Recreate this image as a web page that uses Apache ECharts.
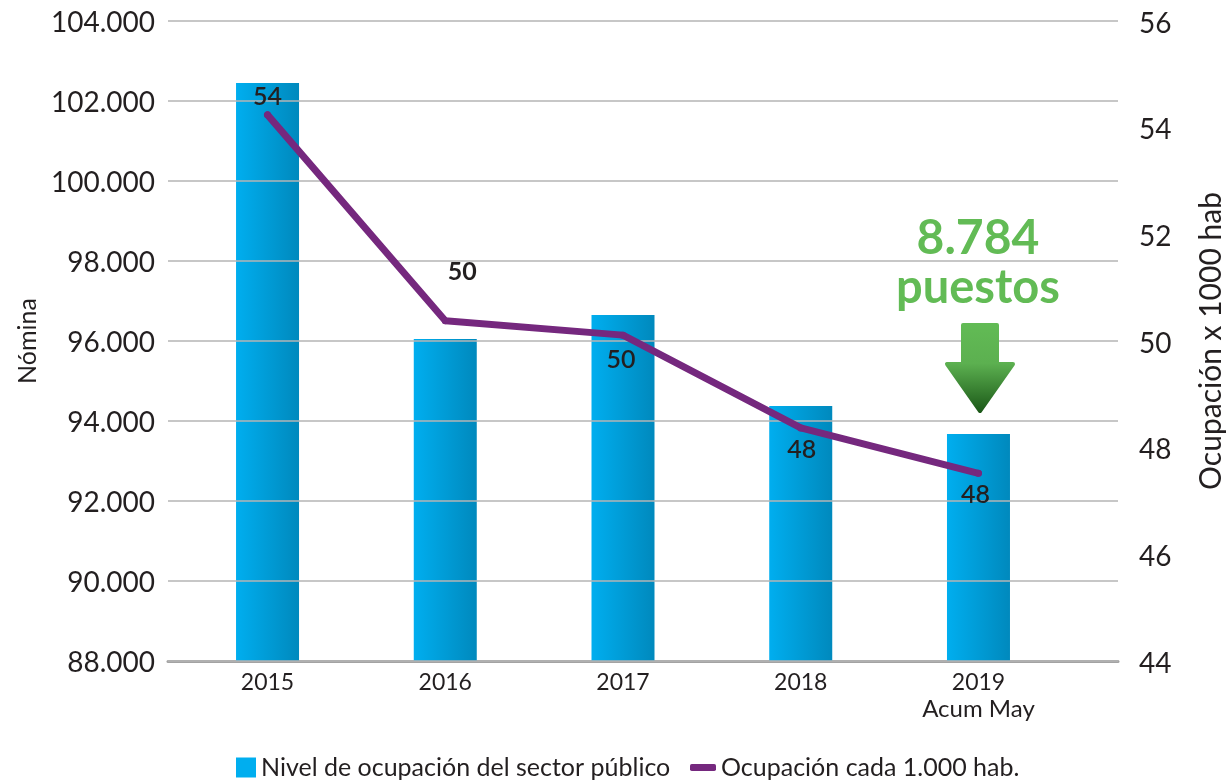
<!DOCTYPE html>
<html><head><meta charset="utf-8">
<style>html,body{margin:0;padding:0;background:#fff}#c{width:1229px;height:781px}</style>
<script src="https://cdn.jsdelivr.net/npm/echarts@6/dist/echarts.min.js"></script>
</head><body><div id="c"></div>
<script>
const categories = ['2015','2016','2017','2018','2019\n{s|Acum May}'];
const nomina = [102450,96050,96650,94375,93675];
const ocupacion = [54.24,50.38,50.11,48.37,47.52];
const ocupacionLabels = ['54','50','50','48','48'];
const labelOffsets = [[0,-18],[17,-49],[-2,25],[1,22],[-3,22]];
const seriesBar = 'Nivel de ocupación del sector público';
const seriesLine = 'Ocupación cada 1.000 hab.';
const positions = categories.map((_,i)=>i);
const font='Lato';
const ink='#231f20';
const arrowFill=()=>new echarts.graphic.LinearGradient(0,0,0,1,[{offset:0,color:'#62bb55'},{offset:0.45,color:'#5cb050'},{offset:1,color:'#1a5717'}]);
const chart=echarts.init(document.getElementById('c'),null,{renderer:'canvas'});
chart.setOption({
  animation:false,
  backgroundColor:'#fff',
  textStyle:{fontFamily:font,color:ink},
  grid:{left:168,right:111,top:21,bottom:120,containLabel:false,outerBoundsMode:'none'},
  legend:[
    {data:[{name:seriesBar,icon:'rect',itemStyle:{color:'#00aeef'}}],left:236,top:755,itemWidth:20,itemHeight:20,itemGap:6,padding:0,
     textStyle:{fontFamily:font,fontSize:25,color:ink}},
    {data:[{name:seriesLine,icon:'roundRect',itemStyle:{color:'#75287e'},lineStyle:{opacity:0}}],left:690,top:755,itemWidth:26,itemHeight:7,itemGap:4,padding:0,
     textStyle:{fontFamily:font,fontSize:25,color:ink}}
  ],
  xAxis:{type:'value',min:-0.56,max:4.785,splitLine:{show:false},
    axisLine:{show:true,onZero:false,lineStyle:{color:'#a3a3a3',width:3}},axisTick:{show:false},
    axisLabel:{customValues:positions,formatter:v=>categories[Math.round(v)],fontFamily:font,fontSize:23,color:ink,margin:8,lineHeight:27,align:'center',showMinLabel:true,showMaxLabel:true,
      rich:{s:{fontFamily:font,fontSize:24,color:ink,lineHeight:27}}}},
  yAxis:[
    {type:'value',min:88000,max:104000,interval:2000,z:3,name:'Nómina',nameLocation:'middle',nameRotate:90,nameGap:128,
     nameTextStyle:{fontFamily:font,fontSize:25,color:ink},
     axisLine:{show:false},axisTick:{show:false},
     axisLabel:{fontFamily:font,fontSize:28,color:ink,margin:13,
       formatter:v=>'{a|'+String(v).replace(/(\d+)(\d{3})$/,'$1.$2')+'}',
       rich:{a:{fontFamily:font,fontSize:28,color:ink,lineHeight:32,verticalAlign:'bottom'}}},
     splitLine:{show:true,lineStyle:{color:'#b5b5b5',width:1.5}}},
    {type:'value',min:44,max:56,interval:2,name:'Ocupación x 1000 hab',nameLocation:'middle',nameRotate:90,nameGap:78,
     nameTextStyle:{fontFamily:font,fontSize:30,color:ink},
     axisLine:{show:false},axisTick:{show:false},splitLine:{show:false},
     axisLabel:{fontFamily:font,fontSize:28,color:ink,margin:21,
       formatter:v=>'{a|'+v+'}',
       rich:{a:{fontFamily:font,fontSize:28,color:ink,lineHeight:33,verticalAlign:'bottom'}}}}
  ],
  series:[
    {name:seriesBar,type:'bar',yAxisIndex:0,barWidth:63,z:2,
     data:positions.map(i=>[i,nomina[i]]),
     itemStyle:{color:new echarts.graphic.LinearGradient(0,0,1,0,[{offset:0,color:'#00aeef'},{offset:1,color:'#0089bd'}])}},
    {name:seriesLine,type:'line',yAxisIndex:1,z:4,symbol:'circle',symbolSize:7,showSymbol:true,
     lineStyle:{color:'#75287e',width:7,cap:'round',join:'round'},itemStyle:{color:'#75287e'},
     data:positions.map(i=>({value:[i,ocupacion[i]],
       label:{show:true,position:'inside',offset:labelOffsets[i],formatter:ocupacionLabels[i],
              fontFamily:font,fontSize:25,fontWeight:i===1?'bold':'600',color:ink}}))}
  ],
  graphic:[
    {type:'text',z:10,style:{x:978,y:239,text:'8.784',align:'center',verticalAlign:'middle',fontFamily:font,fontWeight:'bold',fontSize:48,fill:'#62bb55'}},
    {type:'text',z:10,style:{x:978,y:288,text:'puestos',align:'center',verticalAlign:'middle',fontFamily:font,fontWeight:'bold',fontSize:47,fill:'#62bb55'}},
    {type:'polygon',z:10,shape:{points:[[963,325],[997,325],[997,364],[1013,364],[980,411],[947,364],[963,364]]},
     style:{fill:arrowFill(),stroke:arrowFill(),lineWidth:4,lineJoin:'round'}}
  ]
});
</script></body></html>
